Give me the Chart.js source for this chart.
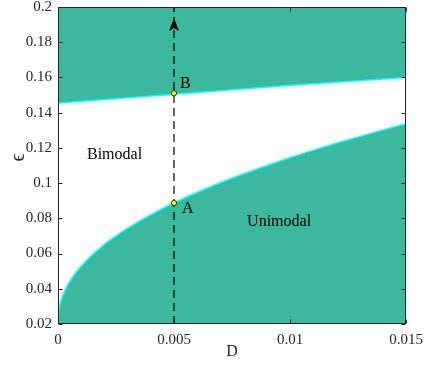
<!DOCTYPE html>
<html>
<head>
<meta charset="utf-8">
<script src="https://cdn.jsdelivr.net/npm/chart.js@4/dist/chart.umd.min.js"></script>
<style>
html,body{margin:0;padding:0;background:#fff;}
#wrap{width:425px;height:365px;position:relative;}
</style>
</head>
<body>
<div id="wrap"><canvas id="c" width="425" height="365"></canvas></div>
<script>
// ---- data ----
const xTicks = [0, 0.005, 0.01, 0.015];
const yTicks = [0.02, 0.04, 0.06, 0.08, 0.1, 0.12, 0.14, 0.16, 0.18, 0.2];

// lower (unimodal) boundary
const lowerD   = [0, 0.00005, 0.0001, 0.0002, 0.0005, 0.001, 0.002, 0.003, 0.004, 0.005, 0.006, 0.007, 0.008, 0.009, 0.010, 0.011, 0.012, 0.013, 0.014, 0.015];
const lowerEps = [0.02, 0.0283, 0.0315, 0.0357, 0.0439, 0.0528, 0.0651, 0.0743, 0.0820, 0.0887, 0.0947, 0.1002, 0.1052, 0.1099, 0.1144, 0.1186, 0.1226, 0.1264, 0.1301, 0.1336];

// upper boundary
const upperD   = [0, 0.005, 0.01, 0.015];
const upperEps = [0.1455, 0.1505, 0.1555, 0.1600];

// dashed path at D = 0.005
const pathD   = [0.005, 0.005];
const pathEps = [0.02, 0.2];
const arrowTipEps = 0.1938;
const arrowBaseEps = 0.1864;

// marked points
const pointNames = ['A', 'B'];
const pointD     = [0.005, 0.005];
const pointEps   = [0.0887, 0.1510];

// region / point annotations (text, D, eps)
const annTexts = ['Bimodal', 'Unimodal', 'A', 'B'];
const annD     = [0.00125, 0.00815, 0.00534, 0.00526];
const annEps   = [0.116, 0.0779, 0.0856, 0.1566];

const TEAL = '#3bb89d';
const CYAN = '#00ffff';
const INK = '#262626';
const SERIF = '"Liberation Serif", "Times New Roman", serif';

const toXY = (xs, ys) => xs.map((x, i) => ({x: x, y: ys[i]}));

const framePlugin = {
  id: 'frame',
  afterDatasetsDraw(chart) {
    const ctx = chart.ctx;
    const xs = chart.scales.x, ys = chart.scales.y;
    ctx.save();
    const ax = xs.getPixelForValue(pathD[1]);
    const tip = ys.getPixelForValue(arrowTipEps);
    const base = ys.getPixelForValue(arrowBaseEps);
    ctx.fillStyle = '#000';
    ctx.beginPath();
    ctx.moveTo(ax, tip);
    ctx.lineTo(ax + 5, base);
    ctx.lineTo(ax, base - 3);
    ctx.lineTo(ax - 5, base);
    ctx.closePath();
    ctx.fill();
    ctx.restore();
  },
  afterDraw(chart) {
    const ctx = chart.ctx, a = chart.chartArea;
    const xs = chart.scales.x, ys = chart.scales.y;
    ctx.save();
    ctx.fillStyle = '#000';
    ctx.font = '16px ' + SERIF;
    ctx.textBaseline = 'middle';
    ctx.textAlign = 'left';
    annTexts.forEach((t, i) => {
      ctx.fillText(t, xs.getPixelForValue(annD[i]), ys.getPixelForValue(annEps[i]));
    });
    ctx.strokeStyle = INK;
    ctx.lineWidth = 1;
    const L = Math.round(a.left) + 0.5, R = Math.round(a.right) - 0.5;
    const T = Math.round(a.top) + 0.5, B = Math.round(a.bottom) - 0.5;
    ctx.strokeRect(L, T, R - L, B - T);
    ctx.beginPath();
    const tl = 4;
    xTicks.forEach(v => {
      const p = Math.round(xs.getPixelForValue(v)) + 0.5;
      ctx.moveTo(p, B); ctx.lineTo(p, B - tl);
      ctx.moveTo(p, T); ctx.lineTo(p, T + tl);
    });
    yTicks.forEach(v => {
      const p = Math.round(ys.getPixelForValue(v)) + 0.5;
      ctx.moveTo(L, p); ctx.lineTo(L + tl, p);
      ctx.moveTo(R, p); ctx.lineTo(R - tl, p);
    });
    ctx.stroke();
    ctx.fillStyle = INK;
    ctx.font = '16px ' + SERIF;
    ctx.textAlign = 'center';
    ctx.textBaseline = 'middle';
    ctx.fillText('D', (a.left + a.right) / 2, 352);
    ctx.translate(19, (a.top + a.bottom) / 2 - 8);
    ctx.rotate(-Math.PI / 2);
    ctx.font = '20px ' + SERIF;
    ctx.fillText('ϵ', 0, 0);
    ctx.restore();
  }
};

new Chart(document.getElementById('c'), {
  type: 'line',
  data: {
    datasets: [
      {
        data: toXY(upperD, upperEps),
        fill: 'end',
        backgroundColor: TEAL,
        borderColor: CYAN,
        borderWidth: 1.5,
        pointRadius: 0,
        tension: 0,
        order: 5
      },
      {
        data: toXY(lowerD, lowerEps),
        fill: 'start',
        backgroundColor: TEAL,
        borderColor: CYAN,
        borderWidth: 1.5,
        pointRadius: 0,
        cubicInterpolationMode: 'monotone',
        order: 4
      },
      {
        data: toXY(pathD, pathEps),
        fill: false,
        borderColor: '#000',
        borderWidth: 1.2,
        borderDash: [8, 5],
        pointRadius: 0,
        order: 3
      },
      {
        data: toXY(pointD, pointEps),
        showLine: false,
        fill: false,
        pointRadius: 2.6,
        pointBackgroundColor: '#ffff00',
        pointBorderColor: '#333300',
        pointBorderWidth: 1,
        order: 1
      }
    ]
  },
  options: {
    responsive: false,
    animation: false,
    devicePixelRatio: 1,
    layout: {padding: {left: 0, right: 19, top: 7, bottom: 0}},
    plugins: {legend: {display: false}, tooltip: {enabled: false}},
    scales: {
      x: {
        type: 'linear',
        min: 0, max: 0.015,
        afterBuildTicks: s => { s.ticks = xTicks.map(v => ({value: v})); },
        afterFit: s => { s.height = 41; s.paddingLeft = 0; s.paddingRight = 0; },
        grid: {display: false, drawTicks: false},
        border: {display: false},
        ticks: {
          padding: 7,
          color: INK,
          font: {family: SERIF, size: 15},
          maxRotation: 0,
          callback: v => String(v)
        }
      },
      y: {
        type: 'linear',
        min: 0.02, max: 0.2,
        afterBuildTicks: s => { s.ticks = yTicks.map(v => ({value: v})); },
        afterFit: s => { s.width = 58; s.paddingTop = 0; s.paddingBottom = 0; },
        grid: {display: false, drawTicks: false},
        border: {display: false},
        ticks: {
          padding: 6,
          color: INK,
          font: {family: SERIF, size: 15},
          callback: v => String(Math.round(v * 100) / 100)
        }
      }
    }
  },
  plugins: [framePlugin]
});
</script>
</body>
</html>
